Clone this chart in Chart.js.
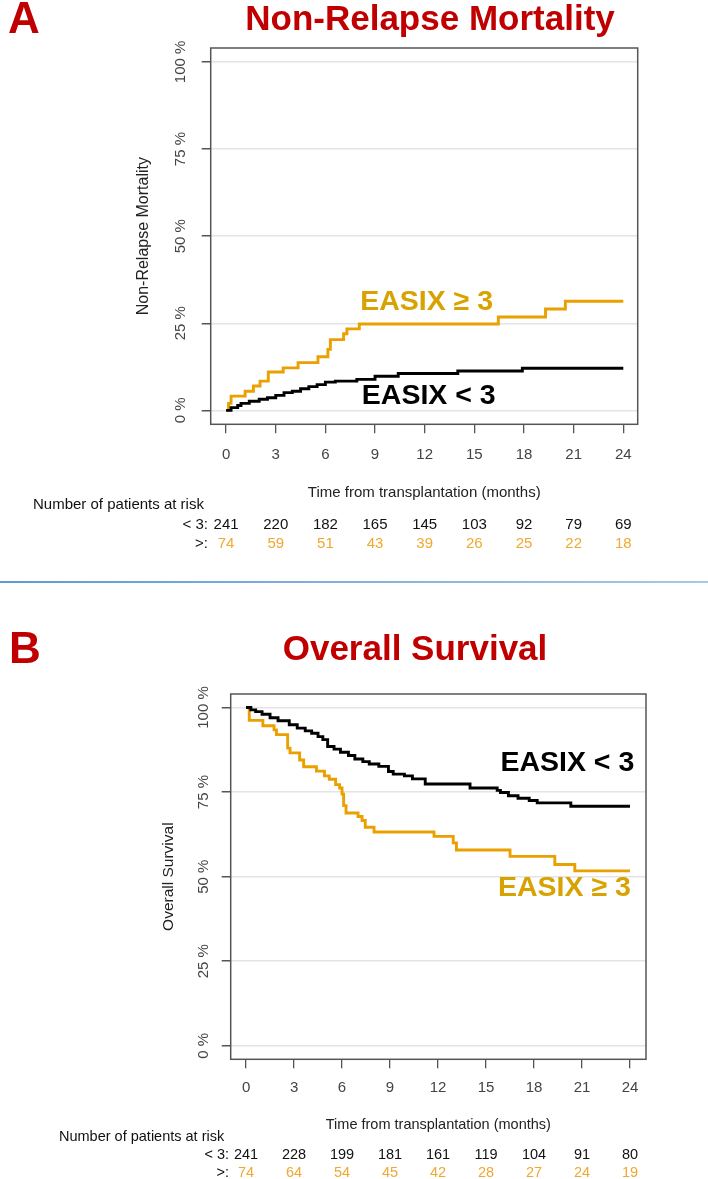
<!DOCTYPE html>
<html>
<head>
<meta charset="utf-8">
<script src="https://cdn.jsdelivr.net/npm/chart.js@4.4.1/dist/chart.umd.min.js"></script>
<style>
  body { margin: 0; background: #fff; }
  #wrap { position: relative; width: 708px; height: 1179px; overflow: hidden; }
  canvas { position: absolute; left: 0; }
  #chartA { top: 0; }
  #chartB { top: 590px; }
  #sep { position: absolute; left: 0; top: 581px; width: 708px; height: 2px;
         background: linear-gradient(to right, #5d9bd3, #a9c8e6); }
</style>
</head>
<body>
<div id="wrap">
  <canvas id="chartA" width="708" height="580"></canvas>
  <div id="sep"></div>
  <canvas id="chartB" width="708" height="589"></canvas>
</div>
<script>
// time axis ticks (months) and y ticks (%)
const timeTicks = [0, 3, 6, 9, 12, 15, 18, 21, 24];
const pctTicks = [0, 25, 50, 75, 100];

// A: non-relapse mortality (cumulative incidence, %)
const nrmLowT = [0, 0.3, 0.7, 0.9, 1.4, 2.0, 2.5, 3.0, 3.5, 4.0, 4.5, 5.0, 5.5, 6.0, 6.6, 7.9, 9.0, 10.4, 14.0, 17.9, 24];
const nrmLowV = [0, 0.8, 1.4, 2.0, 2.6, 3.2, 3.6, 4.3, 5.1, 5.5, 6.2, 6.8, 7.4, 8.1, 8.4, 8.9, 9.8, 10.6, 11.3, 12.1, 12.1];
const nrmHighT = [0, 0.15, 0.3, 1.15, 1.65, 2.05, 2.55, 3.45, 4.35, 5.55, 6.15, 6.3, 7.1, 7.3, 8.05, 16.45, 19.3, 20.5, 24];
const nrmHighV = [0, 2.0, 4.1, 5.5, 7.0, 8.4, 11.0, 12.2, 13.7, 15.4, 17.5, 20.3, 22.0, 23.4, 24.8, 26.8, 29.1, 31.3, 31.3];
const riskLowA = [241, 220, 182, 165, 145, 103, 92, 79, 69];
const riskHighA = [74, 59, 51, 43, 39, 26, 25, 22, 18];

// B: overall survival (%)
const osLowT = [0, 0.3, 0.6, 1.0, 1.5, 2.0, 2.7, 3.2, 3.7, 4.1, 4.5, 4.8, 5.1, 5.5, 5.9, 6.4, 6.8, 7.3, 7.7, 8.3, 8.9, 9.2, 9.9, 10.4, 11.2, 14.0, 15.7, 15.9, 16.4, 17.0, 17.7, 18.2, 20.3, 24];
const osLowV = [100, 99.3, 98.8, 98.0, 97.0, 96.1, 94.9, 93.9, 93.1, 92.4, 91.4, 90.5, 88.5, 87.7, 86.8, 85.8, 84.8, 84.0, 83.3, 82.6, 81.1, 80.3, 79.8, 78.9, 77.4, 76.2, 75.5, 74.9, 73.9, 73.2, 72.5, 71.8, 70.8, 70.8];
const osHighT = [0, 0.2, 1.05, 1.75, 1.9, 2.6, 2.75, 3.35, 3.6, 4.4, 4.9, 5.2, 5.6, 5.85, 6.0, 6.1, 6.25, 7.0, 7.25, 7.45, 8.0, 11.75, 12.95, 13.15, 16.5, 19.3, 20.55, 24];
const osHighV = [100, 96.2, 94.6, 93.4, 92.0, 88.0, 86.6, 84.5, 82.5, 81.2, 79.8, 78.8, 77.2, 76.2, 74.4, 71.0, 68.8, 67.8, 66.6, 64.6, 63.2, 61.9, 60.0, 57.9, 56.0, 53.6, 51.7, 51.7];
const riskLowB = [241, 228, 199, 181, 161, 119, 104, 91, 80];
const riskHighB = [74, 64, 54, 45, 42, 28, 27, 24, 19];

const FONT = '"Liberation Sans", Arial, sans-serif';
const RED = '#C00000';
const ORANGE = '#E9A000';
const GOLD = '#D8A200';
const RISK_ORANGE = '#F0A830';

function pts(ts, vs) {
    return ts.map((t, i) => ({x: t, y: vs[i]}));
}

// box, titles, curve labels and the risk table
const decor = {
    id: 'decor',
    afterDraw(chart, args, o) {
        const ctx = chart.ctx;
        const a = chart.chartArea;
        const x = chart.scales.x;
        const y = chart.scales.y;
        ctx.save();
        ctx.strokeStyle = '#555';
        ctx.lineWidth = 1.5;
        ctx.strokeRect(a.left, a.top, a.right - a.left, a.bottom - a.top);

        ctx.fillStyle = RED;
        ctx.textBaseline = 'alphabetic';
        ctx.textAlign = 'left';
        ctx.font = 'bold 44px ' + FONT;
        ctx.fillText(o.letter, o.letterX, o.letterY);
        ctx.textAlign = 'center';
        ctx.font = 'bold 35px ' + FONT;
        ctx.fillText(o.title, o.titleX, o.titleY);

        ctx.textBaseline = 'middle';
        ctx.textAlign = 'left';
        ctx.font = 'bold 28.5px ' + FONT;
        for (const l of o.labels) {
            ctx.fillStyle = l.color;
            ctx.fillText(l.text, x.getPixelForValue(l.t), y.getPixelForValue(l.v));
        }

        ctx.font = o.riskFont + 'px ' + FONT;
        ctx.fillStyle = '#111';
        ctx.fillText('Number of patients at risk', o.riskLeft, o.riskHeadY);
        ctx.textAlign = 'right';
        ctx.fillText('< 3:', o.riskLabelX, o.riskY1);
        ctx.fillText('>:', o.riskLabelX, o.riskY2);
        ctx.textAlign = 'center';
        timeTicks.forEach((t, i) => {
            const px = x.getPixelForValue(t);
            ctx.fillStyle = '#111';
            ctx.fillText(String(o.low[i]), px, o.riskY1);
            ctx.fillStyle = RISK_ORANGE;
            ctx.fillText(String(o.high[i]), px, o.riskY2);
        });
        ctx.restore();
    }
};

function makeChart(id, cfg) {
    return new Chart(document.getElementById(id), {
        type: 'line',
        data: {
            datasets: [
                {data: pts(cfg.lowT, cfg.lowV), borderColor: '#000', borderWidth: 2.9, stepped: 'before', pointRadius: 0, fill: false},
                {data: pts(cfg.highT, cfg.highV), borderColor: ORANGE, borderWidth: 2.9, stepped: 'before', pointRadius: 0, fill: false}
            ]
        },
        options: {
            responsive: false,
            animation: false,
            devicePixelRatio: 1,
            layout: {padding: cfg.padding},
            plugins: {
                legend: {display: false},
                tooltip: {enabled: false},
                decor: cfg.decor
            },
            scales: {
                x: {
                    type: 'linear',
                    min: cfg.xMin,
                    max: cfg.xMax,
                    afterBuildTicks: s => { s.ticks = timeTicks.map(v => ({value: v})); },
                    afterFit: s => { s.height = cfg.xHeight; },
                    grid: {drawOnChartArea: false, drawTicks: true, tickLength: 9, tickColor: '#555', lineWidth: 1.3},
                    border: {display: false},
                    ticks: {autoSkip: false, maxRotation: 0, padding: cfg.xTickPad, color: '#444',
                            font: {family: FONT, size: 15}},
                    title: {display: true, text: 'Time from transplantation (months)', color: '#222',
                            padding: 0, font: {family: FONT, size: cfg.textSize}}
                },
                y: {
                    min: -4,
                    max: 104,
                    afterBuildTicks: s => { s.ticks = pctTicks.map(v => ({value: v})); },
                    afterFit: s => { s.width = cfg.yWidth; },
                    grid: {color: '#e4e4e4', lineWidth: 1.5, drawTicks: true, tickLength: 9, tickColor: '#555'},
                    border: {display: false},
                    ticks: {minRotation: 90, maxRotation: 90, crossAlign: 'center', padding: cfg.yTickPad,
                            color: '#444', font: {family: FONT, size: 15},
                            callback: v => v + ' %'},
                    title: {display: true, text: cfg.yTitle, color: '#222', padding: 0,
                            font: {family: FONT, size: cfg.yTitleSize}}
                }
            }
        },
        plugins: [decor]
    });
}

makeChart('chartA', {
    lowT: nrmLowT, lowV: nrmLowV, highT: nrmHighT, highV: nrmHighV,
    xMin: -0.93, xMax: 24.87,
    padding: {left: 134, right: 70.3, top: 48, bottom: 78},
    yWidth: 76.7, xHeight: 77.7, xTickPad: 12.7, yTickPad: 0, textSize: 15, yTitleSize: 16,
    yTitle: 'Non-Relapse Mortality',
    decor: {
        letter: 'A', letterX: 8, letterY: 33,
        title: 'Non-Relapse Mortality', titleX: 430, titleY: 30,
        labels: [
            {text: 'EASIX \u2265 3', t: 8.1, v: 31.2, color: GOLD},
            {text: 'EASIX < 3', t: 8.2, v: 4.1, color: '#000'}
        ],
        riskFont: 15, riskLeft: 33, riskHeadY: 505, riskLabelX: 208, riskY1: 525, riskY2: 544,
        low: riskLowA, high: riskHighA
    }
});

makeChart('chartB', {
    lowT: osLowT, lowV: osLowV, highT: osHighT, highV: osHighV,
    xMin: -0.96, xMax: 25.0,
    padding: {left: 159, right: 62, top: 104, bottom: 45},
    yWidth: 71.7, xHeight: 74.7, xTickPad: 10.7, yTickPad: -3.5, textSize: 14.5, yTitleSize: 15.5,
    yTitle: 'Overall Survival',
    decor: {
        letter: 'B', letterX: 9, letterY: 73,
        title: 'Overall Survival', titleX: 415, titleY: 70,
        labels: [
            {text: 'EASIX < 3', t: 15.9, v: 83.6, color: '#000'},
            {text: 'EASIX \u2265 3', t: 15.75, v: 46.7, color: GOLD}
        ],
        riskFont: 14.5, riskLeft: 59, riskHeadY: 547, riskLabelX: 229, riskY1: 565, riskY2: 583,
        low: riskLowB, high: riskHighB
    }
});
</script>
</body>
</html>
